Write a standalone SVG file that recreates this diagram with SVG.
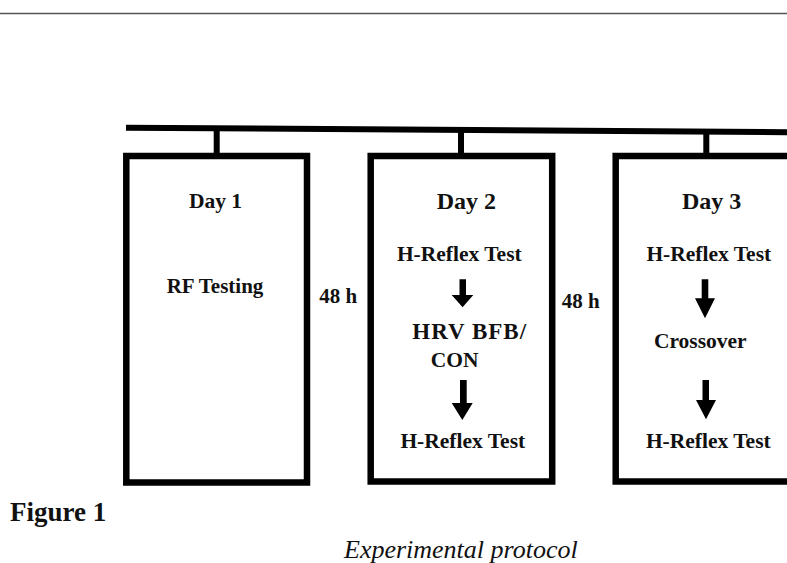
<svg xmlns="http://www.w3.org/2000/svg" width="787" height="563" viewBox="0 0 787 563">
<style>
.box{fill:none;stroke:#000;stroke-width:6.5}
.t{font-family:"Liberation Serif","Times New Roman",serif;font-weight:bold;font-size:21.5px;fill:#111;text-anchor:middle}
.d{font-size:24px}
.ar{fill:#000}
</style>
<rect width="787" height="563" fill="#fff"/>
<line x1="0" y1="13.5" x2="787" y2="13.5" stroke="#555" stroke-width="1.5"/>
<g id="timeline">
<line x1="126" y1="127.7" x2="787" y2="132.2" stroke="#000" stroke-width="6"/>
</g>
<g id="connectors">
<line x1="216.7" y1="128" x2="216.7" y2="154" stroke="#000" stroke-width="6"/>
<line x1="461" y1="129" x2="461" y2="154" stroke="#000" stroke-width="6"/>
<line x1="706.3" y1="131" x2="706.3" y2="154" stroke="#000" stroke-width="6"/>
<polygon class="ar" points="459.5,279.3 466,279.3 466,295 473.3,295 462.6,307.3 451.7,295 459.5,295"/>
<polygon class="ar" points="460,380 466.7,380 466.7,403 472.7,403 462.3,420 451.7,403 460,403"/>
<polygon class="ar" points="701.7,279.3 708.3,279.3 708.3,298.3 715,298.3 705,318.3 695,298.3 701.7,298.3"/>
<polygon class="ar" points="702.5,380 709,380 709,400 716,400 706,419.3 696,400 702.5,400"/>
</g>
<g id="day1">
<rect class="box" x="126.3" y="156" width="180.7" height="326.5"/>
<text class="t" x="215.5" y="208.3" style="font-size:21.5px">Day 1</text>
<text class="t" x="215" y="292.7" style="font-size:21px">RF Testing</text>
</g>
<g id="gap1">
<text class="t" x="338.3" y="303.3" style="font-size:21px">48 h</text>
</g>
<g id="day2">
<rect class="box" x="370.7" y="156" width="181.5" height="325.5"/>
<text class="t d" x="466.3" y="209.3">Day 2</text>
<text class="t" x="459.3" y="260.7">H-Reflex Test</text>
<text class="t" x="469.7" y="339" style="font-size:23px;letter-spacing:1px">HRV BFB/</text>
<text class="t" x="454.7" y="366.7">CON</text>
<text class="t" x="462.8" y="448.3">H-Reflex Test</text>
</g>
<g id="gap2">
<text class="t" x="580.8" y="308" style="font-size:21px">48 h</text>
</g>
<g id="day3">
<rect class="box" x="615.7" y="156" width="200" height="325.5"/>
<text class="t d" x="711.7" y="209.3">Day 3</text>
<text class="t" x="708.8" y="260.7">H-Reflex Test</text>
<text class="t" x="700.3" y="348.3">Crossover</text>
<text class="t" x="708.3" y="448.3">H-Reflex Test</text>
</g>
<text x="10" y="521" font-family="'Liberation Serif','Times New Roman',serif" font-weight="bold" font-size="27" fill="#111">Figure 1</text>
<text x="344" y="558" font-family="'Liberation Serif','Times New Roman',serif" font-style="italic" font-size="26" fill="#111">Experimental protocol</text>
</svg>
